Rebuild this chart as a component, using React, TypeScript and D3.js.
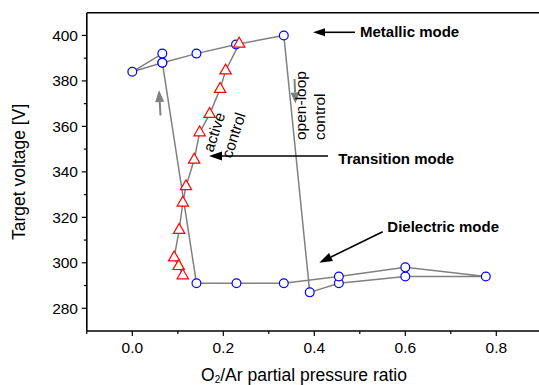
import React from "react";
import * as d3 from "d3";

// open-loop control (blue circles), drawn as one polyline in the order of the loop
const openLoopX = [0.066, 0.0, 0.066, 0.141, 0.228, 0.333, 0.39, 0.454, 0.6, 0.777, 0.6, 0.454, 0.333, 0.229, 0.141, 0.066];
const openLoopV = [392, 384, 388, 392, 396, 400, 287, 291, 294, 294, 298, 294, 291, 291, 291, 388];

// active control (red triangles)
const activeX = [0.235, 0.205, 0.193, 0.17, 0.148, 0.136, 0.118, 0.111, 0.103, 0.092, 0.102, 0.111];
const activeV = [396.3, 384.5, 376.4, 365.4, 357.3, 345.3, 333.6, 326.4, 314.4, 302.3, 298.5, 294.4];

const xMajorTicks = [0, 0.2, 0.4, 0.6, 0.8];
const xMinorTicks = [-0.1, 0.1, 0.3, 0.5, 0.7];
const yMajorTicks = [280, 300, 320, 340, 360, 380, 400];
const yMinorTicks = [290, 310, 330, 350, 370, 390];

const FONT = "'Liberation Sans', Arial, Helvetica, sans-serif";
const GRAY = "#808080";

function Arrow({ x1, y1, x2, y2, color, width, headLen, headHalf }: any) {
  const ang = Math.atan2(y2 - y1, x2 - x1);
  const bx = x2 - headLen * Math.cos(ang);
  const by = y2 - headLen * Math.sin(ang);
  const px = -Math.sin(ang) * headHalf;
  const py = Math.cos(ang) * headHalf;
  return (
    <g>
      <line x1={x1} y1={y1} x2={bx} y2={by} stroke={color} strokeWidth={width} />
      <path d={`M${x2},${y2}L${bx + px},${by + py}L${bx - px},${by - py}Z`} fill={color} />
    </g>
  );
}

export default function App() {
  const W = 539, H = 385;
  const x = d3.scaleLinear().domain([-0.1, 0.9]).range([86.8, 541.8]);
  const y = d3.scaleLinear().domain([270, 410]).range([331, 12.7]);

  const loopPath = d3.line<number>().x((d, i) => x(openLoopX[i])).y((d, i) => y(openLoopV[i]))(openLoopV) || "";
  const activePath = d3.line<number>().x((d, i) => x(activeX[i])).y((d, i) => y(activeV[i]))(activeV) || "";
  const tri = d3.symbol().type(d3.symbolTriangle).size(56)() || "";

  const left = x(-0.1), bottom = y(270), top = y(410), right = x(0.9);

  return (
    <svg width={W} height={H} style={{ position: "absolute", left: 0, top: 0, background: "#fff" }} fontFamily={FONT}>
      <rect width={W} height={H} fill="#fff" />
      {/* frame */}
      <line x1={left} y1={top} x2={right} y2={top} stroke="#000" strokeWidth={1.6} />
      <line x1={left} y1={top} x2={left} y2={bottom} stroke="#000" strokeWidth={1.6} />
      <line x1={left} y1={bottom} x2={right} y2={bottom} stroke="#000" strokeWidth={1.6} />
      <line x1={right} y1={top} x2={right} y2={bottom} stroke="#000" strokeWidth={1.6} />

      {/* x ticks */}
      {xMajorTicks.map((t) => (
        <g key={"xm" + t}>
          <line x1={x(t)} x2={x(t)} y1={bottom} y2={bottom + 5} stroke="#000" strokeWidth={1.2} />
          <text x={x(t)} y={353} textAnchor="middle" fontSize={15.5}>{t.toFixed(1)}</text>
        </g>
      ))}
      {xMinorTicks.map((t) => (
        <line key={"xn" + t} x1={x(t)} x2={x(t)} y1={bottom} y2={bottom + 3} stroke="#000" strokeWidth={1.2} />
      ))}
      {/* y ticks */}
      {yMajorTicks.map((t) => (
        <g key={"ym" + t}>
          <line x1={left} x2={left - 5} y1={y(t)} y2={y(t)} stroke="#000" strokeWidth={1.2} />
          <text x={78} y={y(t)} textAnchor="end" dominantBaseline="central" fontSize={15.5}>{t}</text>
        </g>
      ))}
      {yMinorTicks.map((t) => (
        <line key={"yn" + t} x1={left} x2={left - 3} y1={y(t)} y2={y(t)} stroke="#000" strokeWidth={1.2} />
      ))}

      {/* axis titles */}
      <text transform={`translate(25,${(top + bottom) / 2}) rotate(-90)`} textAnchor="middle" fontSize={17.5}>
        Target voltage [V]
      </text>
      <text x={304} y={380.5} textAnchor="middle" fontSize={17.5}>
        O<tspan fontSize={10} dy={2.5}>2</tspan><tspan dy={-2.5}>/Ar partial pressure ratio</tspan>
      </text>

      {/* data lines */}
      <path d={loopPath} fill="none" stroke={GRAY} strokeWidth={1.5} />
      <path d={activePath} fill="none" stroke={GRAY} strokeWidth={1.5} />

      {openLoopX.map((xv, i) => (
        <circle key={"c" + i} cx={x(xv)} cy={y(openLoopV[i])} r={4.4} fill="#fff" stroke="#0000ff" strokeWidth={1.2} />
      ))}
      {activeX.map((xv, i) => (
        <path key={"t" + i} d={tri} transform={`translate(${x(xv)},${y(activeV[i])})`} fill="#fff" stroke="#ff0000" strokeWidth={1.2} />
      ))}

      {/* gray direction arrows */}
      <Arrow x1={160.5} y1={115.5} x2={159} y2={90} color={GRAY} width={2} headLen={12} headHalf={4.5} />
      <Arrow x1={294.5} y1={79} x2={295.5} y2={103.5} color={GRAY} width={2} headLen={11} headHalf={4.5} />

      {/* rotated labels */}
      <text transform="translate(305.7,140) rotate(-90)" fontSize={15.5}>open-loop</text>
      <text transform="translate(325.2,140) rotate(-90)" fontSize={15.5}>control</text>
      <text transform="translate(213,153) rotate(-72)" fontSize={15.5}>active</text>
      <text transform="translate(213,153) rotate(-72) translate(0,19.5)" fontSize={15.5}>control</text>

      {/* mode annotations */}
      <Arrow x1={355} y1={32.3} x2={313} y2={32.3} color="#000" width={1.6} headLen={12} headHalf={4} />
      <text x={360} y={36.5} fontSize={15} fontWeight="bold">Metallic mode</text>

      <Arrow x1={328} y1={156} x2={209} y2={156} color="#000" width={1.6} headLen={13} headHalf={4.5} />
      <text x={338.3} y={164} fontSize={15} fontWeight="bold">Transition mode</text>

      <Arrow x1={382.7} y1={231.7} x2={319.3} y2={262.7} color="#000" width={1.6} headLen={13} headHalf={4.5} />
      <text x={387.3} y={231.5} fontSize={15} fontWeight="bold">Dielectric mode</text>
    </svg>
  );
}
